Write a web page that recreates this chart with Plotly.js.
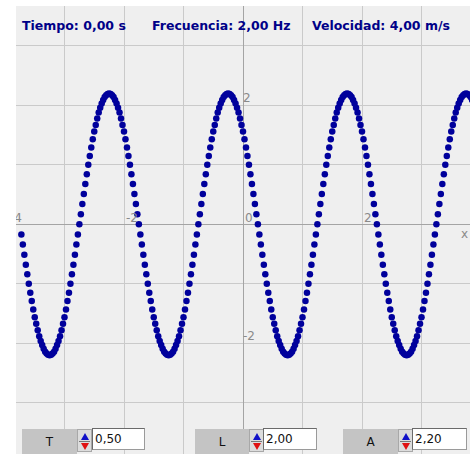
<!DOCTYPE html>
<html>
<head>
<meta charset="utf-8">
<script src="https://cdn.plot.ly/plotly-3.0.1.min.js"></script>
<style>
  html, body { margin: 0; padding: 0; background: #ffffff; }
  #wrap { position: relative; width: 470px; height: 454px; overflow: hidden; }
  #chart { position: absolute; left: 0; top: 0; width: 470px; height: 454px; }
  .btn { position: absolute; background: #c4c4c4; color: #111; font: 12px "DejaVu Sans", sans-serif;
         display: flex; align-items: center; justify-content: center; box-sizing: border-box; }
  .spin { position: absolute; background: #dcdcdc; box-sizing: border-box; border: 1px solid #a8a8a8; }
  .spin .up { position: absolute; left: 3px; top: 3px; width: 0; height: 0;
              border-left: 4px solid transparent; border-right: 4px solid transparent; border-bottom: 7px solid #1010c8; }
  .spin .dn { position: absolute; left: 3px; top: 13px; width: 0; height: 0;
              border-left: 4px solid transparent; border-right: 4px solid transparent; border-top: 7px solid #e01010; }
  .spin .mid { position: absolute; left: 1px; right: 1px; top: 11px; height: 1px; background: #777; }
  .box { position: absolute; background: #ffffff; box-sizing: border-box; border: 1px solid #9a9a9a;
         border-top-color: #6a6a6a; border-left-color: #6a6a6a; color: #111;
         font: 12px "DejaVu Sans", sans-serif; padding-left: 2px; display: flex; align-items: center; }
</style>
</head>
<body>
<div id="wrap">
  <div id="chart"></div>
</div>
<script>
// ---- data ----
var waveX = [
-3.725,-3.7,-3.675,-3.65,-3.625,-3.6,-3.575,-3.55,-3.525,-3.5,-3.475,-3.45,-3.425,-3.4,-3.375,-3.35,-3.325,-3.3,-3.275,-3.25,-3.225,-3.2,-3.175,-3.15,-3.125,-3.1,-3.075,-3.05,-3.025,
-3,-2.975,-2.95,-2.925,-2.9,-2.875,-2.85,-2.825,-2.8,-2.775,-2.75,-2.725,-2.7,-2.675,-2.65,-2.625,-2.6,-2.575,-2.55,-2.525,-2.5,-2.475,-2.45,-2.425,-2.4,-2.375,-2.35,-2.325,-2.3,-2.275,-2.25,-2.225,-2.2,-2.175,-2.15,-2.125,-2.1,-2.075,-2.05,-2.025,
-2,-1.975,-1.95,-1.925,-1.9,-1.875,-1.85,-1.825,-1.8,-1.775,-1.75,-1.725,-1.7,-1.675,-1.65,-1.625,-1.6,-1.575,-1.55,-1.525,-1.5,-1.475,-1.45,-1.425,-1.4,-1.375,-1.35,-1.325,-1.3,-1.275,-1.25,-1.225,-1.2,-1.175,-1.15,-1.125,-1.1,-1.075,-1.05,-1.025,
-1,-0.975,-0.95,-0.925,-0.9,-0.875,-0.85,-0.825,-0.8,-0.775,-0.75,-0.725,-0.7,-0.675,-0.65,-0.625,-0.6,-0.575,-0.55,-0.525,-0.5,-0.475,-0.45,-0.425,-0.4,-0.375,-0.35,-0.325,-0.3,-0.275,-0.25,-0.225,-0.2,-0.175,-0.15,-0.125,-0.1,-0.075,-0.05,-0.025,
0,0.025,0.05,0.075,0.1,0.125,0.15,0.175,0.2,0.225,0.25,0.275,0.3,0.325,0.35,0.375,0.4,0.425,0.45,0.475,0.5,0.525,0.55,0.575,0.6,0.625,0.65,0.675,0.7,0.725,0.75,0.775,0.8,0.825,0.85,0.875,0.9,0.925,0.95,0.975,
1,1.025,1.05,1.075,1.1,1.125,1.15,1.175,1.2,1.225,1.25,1.275,1.3,1.325,1.35,1.375,1.4,1.425,1.45,1.475,1.5,1.525,1.55,1.575,1.6,1.625,1.65,1.675,1.7,1.725,1.75,1.775,1.8,1.825,1.85,1.875,1.9,1.925,1.95,1.975,
2,2.025,2.05,2.075,2.1,2.125,2.15,2.175,2.2,2.225,2.25,2.275,2.3,2.325,2.35,2.375,2.4,2.425,2.45,2.475,2.5,2.525,2.55,2.575,2.6,2.625,2.65,2.675,2.7,2.725,2.75,2.775,2.8,2.825,2.85,2.875,2.9,2.925,2.95,2.975,
3,3.025,3.05,3.075,3.1,3.125,3.15,3.175,3.2,3.225,3.25,3.275,3.3,3.325,3.35,3.375,3.4,3.425,3.45,3.475,3.5,3.525,3.55,3.575,3.6,3.625,3.65,3.675,3.7,3.725,3.75,3.775,3.8,3.825,3.85,3.875,3.9,3.925,3.95,3.975,
4
];
var waveY = [
-0.17,-0.34,-0.51,-0.68,-0.84,-1.00,-1.15,-1.29,-1.43,-1.56,-1.67,-1.78,-1.88,-1.96,-2.03,-2.09,-2.14,-2.17,-2.19,-2.20,-2.19,-2.17,-2.14,-2.09,-2.03,-1.96,-1.88,-1.78,-1.67,-1.56,-1.43,-1.29,-1.15,-1.00,-0.84,-0.68,-0.51,-0.34,-0.17,
0,0.17,0.34,0.51,0.68,0.84,1.00,1.15,1.29,1.43,1.56,1.67,1.78,1.88,1.96,2.03,2.09,2.14,2.17,2.19,2.20,2.19,2.17,2.14,2.09,2.03,1.96,1.88,1.78,1.67,
1.56,1.43,1.29,1.15,1.00,0.84,0.68,0.51,0.34,0.17,0,
-0.17,-0.34,-0.51,-0.68,-0.84,-1.00,-1.15,-1.29,-1.43,-1.56,-1.67,-1.78,-1.88,-1.96,-2.03,-2.09,-2.14,-2.17,-2.19,-2.20,-2.19,-2.17,-2.14,-2.09,-2.03,-1.96,-1.88,-1.78,-1.67,-1.56,-1.43,-1.29,-1.15,-1.00,-0.84,-0.68,-0.51,-0.34,-0.17,
0,0.17,0.34,0.51,0.68,0.84,1.00,1.15,1.29,1.43,1.56,1.67,1.78,1.88,1.96,2.03,2.09,2.14,2.17,2.19,2.20,2.19,2.17,2.14,2.09,2.03,1.96,1.88,1.78,1.67,
1.56,1.43,1.29,1.15,1.00,0.84,0.68,0.51,0.34,0.17,0,
-0.17,-0.34,-0.51,-0.68,-0.84,-1.00,-1.15,-1.29,-1.43,-1.56,-1.67,-1.78,-1.88,-1.96,-2.03,-2.09,-2.14,-2.17,-2.19,-2.20,-2.19,-2.17,-2.14,-2.09,-2.03,-1.96,-1.88,-1.78,-1.67,-1.56,-1.43,-1.29,-1.15,-1.00,-0.84,-0.68,-0.51,-0.34,-0.17,
0,0.17,0.34,0.51,0.68,0.84,1.00,1.15,1.29,1.43,1.56,1.67,1.78,1.88,1.96,2.03,2.09,2.14,2.17,2.19,2.20,2.19,2.17,2.14,2.09,2.03,1.96,1.88,1.78,1.67,
1.56,1.43,1.29,1.15,1.00,0.84,0.68,0.51,0.34,0.17,0,
-0.17,-0.34,-0.51,-0.68,-0.84,-1.00,-1.15,-1.29,-1.43,-1.56,-1.67,-1.78,-1.88,-1.96,-2.03,-2.09,-2.14,-2.17,-2.19,-2.20,-2.19,-2.17,-2.14,-2.09,-2.03,-1.96,-1.88,-1.78,-1.67,-1.56,-1.43,-1.29,-1.15,-1.00,-0.84,-0.68,-0.51,-0.34,-0.17,
0,0.17,0.34,0.51,0.68,0.84,1.00,1.15,1.29,1.43,1.56,1.67,1.78,1.88,1.96,2.03,2.09,2.14,2.17,2.19,2.20,2.19,2.17,2.14,2.09,2.03,1.96,1.88,1.78,1.67,
1.56
];
var xTickVals = [-4, -2, 0, 2];
var xTickLabels = ['-4', '-2', '0', '2'];
var yTickVals = [2, -2];
var yTickLabels = ['2', '-2'];
var headerTexts = ['Tiempo: 0,00 s', 'Frecuencia: 2,00 Hz', 'Velocidad: 4,00 m/s'];
var controlNames = ['T', 'L', 'A'];
var controlValues = ['0,50', '2,00', '2,20'];

// ---- layout geometry (pixels of the 470x454 page) ----
var M = {l: 16, r: 0, t: 6, b: 0};
var W = 470, H = 454;
var pw = W - M.l - M.r, ph = H - M.t - M.b;
function px(x) { return (x - M.l) / pw; }
function py(y) { return 1 - (y - M.t) / ph; }
var xRange = [-3.815, 3.815];
var yRange = [-3.86, 3.67];
function xToPaper(v) { return (v - xRange[0]) / (xRange[1] - xRange[0]); }

var headerX = [20, 150, 310];

var tickFont = {family: 'DejaVu Sans, sans-serif', size: 12, color: '#8a8a8a'};

var traces = [
  {
    type: 'scatter', mode: 'markers', x: waveX, y: waveY,
    marker: {color: '#00009c', size: 6.5, symbol: 'circle', line: {width: 0}},
    hoverinfo: 'skip', cliponaxis: true
  },
  {
    type: 'scatter', mode: 'text', x: yTickVals.map(function () { return 0; }), y: yTickVals,
    text: yTickLabels, textposition: 'top right', textfont: tickFont,
    hoverinfo: 'skip', cliponaxis: true
  }
];

var annotations = headerTexts.map(function (t, i) {
  return {
    text: t, xref: 'paper', yref: 'paper', x: px(headerX[i]), y: py(25),
    xanchor: 'left', yanchor: 'middle', showarrow: false,
    font: {family: 'DejaVu Sans, sans-serif', size: 12.5, color: '#000088', weight: 'bold'}
  };
});
// x-axis tick labels sit just above the axis, right of each grid line
xTickVals.forEach(function (v, i) {
  var outside = v < xRange[0];
  annotations.push({
    text: xTickLabels[i], xref: 'paper', yref: 'y', x: xToPaper(v), y: 0,
    xanchor: 'left', yanchor: 'bottom', showarrow: false, xshift: outside ? 3 : 0, yshift: -3,
    font: tickFont
  });
});
annotations.push({
  text: 'x', xref: 'paper', yref: 'y', x: 1, y: 0, xanchor: 'right', yanchor: 'top',
  showarrow: false, yshift: -1, font: tickFont
});

var layout = {
  width: W, height: H,
  margin: M,
  paper_bgcolor: '#ffffff',
  plot_bgcolor: '#efefef',
  showlegend: false,
  xaxis: {
    range: xRange, dtick: 1, tick0: 0, showticklabels: false, ticks: '',
    showgrid: true, gridcolor: '#cacaca', gridwidth: 1,
    zeroline: true, zerolinecolor: '#a4a4a4', zerolinewidth: 1,
    showline: false, fixedrange: true
  },
  yaxis: {
    range: yRange, dtick: 1, tick0: 0, showticklabels: false, ticks: '',
    showgrid: true, gridcolor: '#cacaca', gridwidth: 1,
    zeroline: true, zerolinecolor: '#a4a4a4', zerolinewidth: 1,
    showline: false, fixedrange: true
  },
  annotations: annotations
};

Plotly.newPlot('chart', traces, layout, {staticPlot: true, displayModeBar: false}).then(function () {
  var wrap = document.getElementById('wrap');
  // white left margin strip covers any label overflow, as in the original applet
  var strip = document.createElement('div');
  strip.style.cssText = 'position:absolute;left:0;top:0;width:' + M.l + 'px;height:' + H + 'px;background:#ffffff;';
  wrap.appendChild(strip);
  // control widgets along the bottom (UI chrome, not data)
  var groups = [
    {btn: [22, 55], spin: 77, box: [92, 53]},
    {btn: [195, 54], spin: 249, box: [263, 54]},
    {btn: [343, 55], spin: 398, box: [412, 55]}
  ];
  groups.forEach(function (g, i) {
    var b = document.createElement('div');
    b.className = 'btn';
    b.style.left = g.btn[0] + 'px'; b.style.top = '429px';
    b.style.width = g.btn[1] + 'px'; b.style.height = '25px';
    b.textContent = controlNames[i];
    wrap.appendChild(b);
    var s = document.createElement('div');
    s.className = 'spin';
    s.style.left = g.spin + 'px'; s.style.top = '429px';
    s.style.width = '15px'; s.style.height = '23px';
    s.innerHTML = '<div class="up"></div><div class="mid"></div><div class="dn"></div>';
    wrap.appendChild(s);
    var t = document.createElement('div');
    t.className = 'box';
    t.style.left = g.box[0] + 'px'; t.style.top = '428px';
    t.style.width = g.box[1] + 'px'; t.style.height = '22px';
    t.textContent = controlValues[i];
    wrap.appendChild(t);
  });
});
</script>
</body>
</html>
